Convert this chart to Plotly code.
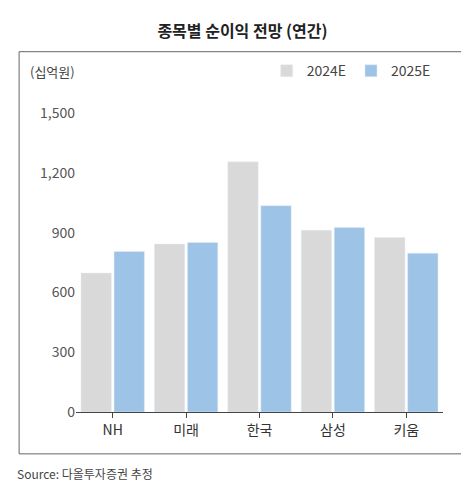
import plotly.graph_objects as go

categories = ["NH", "미래", "한국", "삼성", "키움"]
values_2024 = [697, 843, 1255, 912, 875]
values_2025 = [805, 850, 1035, 925, 797]
tick_vals = [0, 300, 600, 900, 1200, 1500]
tick_text = ["0", "300", "600", "900", "1,200", "1,500"]

fig = go.Figure()
fig.add_trace(go.Bar(x=categories, y=values_2024, name="2024E", marker_color="#d9d9d9"))
fig.add_trace(go.Bar(x=categories, y=values_2025, name="2025E", marker_color="#9dc3e6"))

fig.update_layout(
    width=469, height=500,
    paper_bgcolor="white", plot_bgcolor="white",
    font=dict(family="Noto Sans CJK KR", size=13, color="#333"),
    title=dict(text="<b>종목별 순이익 전망 (연간)</b>", x=0.5, y=0.965, xanchor="center",
               font=dict(size=16, color="#222")),
    margin=dict(l=68, r=34, t=105, b=96),
    barmode="group", bargap=0.1, bargroupgap=0.08,
    legend=dict(orientation="h", x=0.98, xanchor="right", y=1.14, yanchor="middle",
                font=dict(size=14, color="#444"), itemwidth=30, traceorder="normal"),
    showlegend=True,
)
fig.update_xaxes(showline=True, linecolor="#444", linewidth=1, ticks="outside",
                 tickcolor="#444", ticklen=5, tickfont=dict(size=14))
fig.update_yaxes(range=[0, 1500], tickvals=tick_vals, ticktext=tick_text, showgrid=False,
                 showline=False, tickfont=dict(size=14, color="#555"), ticks="")
# outer frame around the chart body
for x0, y0, x1, y1 in [(-0.155, -0.14, 1.065, -0.14), (-0.155, 1.205, 1.065, 1.205),
                       (-0.155, -0.14, -0.155, 1.205), (1.065, -0.14, 1.065, 1.205)]:
    fig.add_shape(type="line", xref="paper", yref="paper", x0=x0, y0=y0, x1=x1, y1=y1,
                  line=dict(color="#666", width=1), layer="above")
fig.add_annotation(text="(십억원)", xref="paper", yref="paper", x=-0.13, y=1.14,
                   xanchor="left", yanchor="middle", showarrow=False, font=dict(size=13, color="#444"))
fig.add_annotation(text="Source: 다올투자증권 추정", xref="paper", yref="paper", x=-0.165, y=-0.205,
                   xanchor="left", yanchor="middle", showarrow=False, font=dict(size=12, color="#444"))

fig.write_html("out.html")
